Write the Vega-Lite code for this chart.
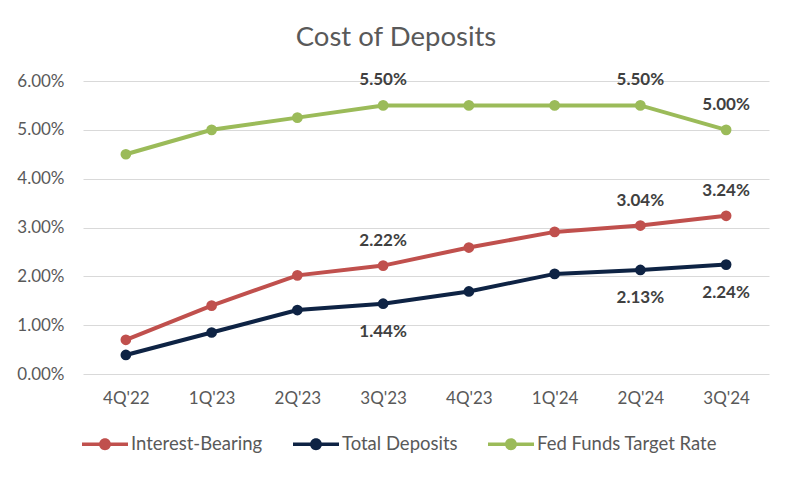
{
  "$schema": "https://vega.github.io/schema/vega-lite/v6.json",
  "width": 686,
  "height": 293,
  "autosize": {"type": "none"},
  "padding": {"left": 83, "top": 81, "right": 22, "bottom": 103},
  "background": "white",
  "title": {
    "text": "Cost of Deposits",
    "font": "Lato",
    "fontSize": 27.5,
    "fontWeight": "normal",
    "color": "#595959",
    "anchor": "middle",
    "frame": "group",
    "dx": -30,
    "offset": 20
  },
  "config": {
    "font": "Lato",
    "view": {"stroke": null},
    "axis": {
      "labelFont": "Lato",
      "labelFontSize": 17,
      "labelColor": "#595959",
      "domain": false,
      "ticks": false,
      "title": null
    }
  },
  "data": {
    "values": [
      {"quarter": "4Q'22", "series": "Interest-Bearing", "value": 0.0070},
      {"quarter": "1Q'23", "series": "Interest-Bearing", "value": 0.0140},
      {"quarter": "2Q'23", "series": "Interest-Bearing", "value": 0.0202},
      {"quarter": "3Q'23", "series": "Interest-Bearing", "value": 0.0222},
      {"quarter": "4Q'23", "series": "Interest-Bearing", "value": 0.0259},
      {"quarter": "1Q'24", "series": "Interest-Bearing", "value": 0.0291},
      {"quarter": "2Q'24", "series": "Interest-Bearing", "value": 0.0304},
      {"quarter": "3Q'24", "series": "Interest-Bearing", "value": 0.0324},
      {"quarter": "4Q'22", "series": "Total Deposits", "value": 0.0039},
      {"quarter": "1Q'23", "series": "Total Deposits", "value": 0.0085},
      {"quarter": "2Q'23", "series": "Total Deposits", "value": 0.0131},
      {"quarter": "3Q'23", "series": "Total Deposits", "value": 0.0144},
      {"quarter": "4Q'23", "series": "Total Deposits", "value": 0.0169},
      {"quarter": "1Q'24", "series": "Total Deposits", "value": 0.0205},
      {"quarter": "2Q'24", "series": "Total Deposits", "value": 0.0213},
      {"quarter": "3Q'24", "series": "Total Deposits", "value": 0.0224},
      {"quarter": "4Q'22", "series": "Fed Funds Target Rate", "value": 0.0450},
      {"quarter": "1Q'23", "series": "Fed Funds Target Rate", "value": 0.0500},
      {"quarter": "2Q'23", "series": "Fed Funds Target Rate", "value": 0.0525},
      {"quarter": "3Q'23", "series": "Fed Funds Target Rate", "value": 0.0550},
      {"quarter": "4Q'23", "series": "Fed Funds Target Rate", "value": 0.0550},
      {"quarter": "1Q'24", "series": "Fed Funds Target Rate", "value": 0.0550},
      {"quarter": "2Q'24", "series": "Fed Funds Target Rate", "value": 0.0550},
      {"quarter": "3Q'24", "series": "Fed Funds Target Rate", "value": 0.0500}
    ]
  },
  "encoding": {
    "x": {
      "field": "quarter",
      "type": "ordinal",
      "sort": null,
      "scale": {"type": "point", "padding": 0.5},
      "axis": {"labelAngle": 0, "labelPadding": 16, "grid": false}
    },
    "y": {
      "field": "value",
      "type": "quantitative",
      "scale": {"domain": [0, 0.06]},
      "axis": {
        "format": ".2%",
        "values": [0, 0.01, 0.02, 0.03, 0.04, 0.05, 0.06],
        "labelPadding": 19,
        "grid": true,
        "gridColor": "#d9d9d9",
        "gridWidth": 1
      }
    },
    "color": {
      "field": "series",
      "type": "nominal",
      "scale": {
        "domain": ["Interest-Bearing", "Total Deposits", "Fed Funds Target Rate"],
        "range": ["#C0504D", "#0E2344", "#9BBB59"]
      },
      "legend": {
        "title": null,
        "orient": "none",
        "direction": "horizontal",
        "legendX": -1,
        "legendY": 340,
        "padding": 0,
        "symbolType": "M-1,-0.076H1V0.076H-1Z M0.26,0A0.26,0.26 0 1,1 -0.26,0A0.26,0.26 0 1,1 0.26,0Z",
        "symbolSize": 2116,
        "symbolStrokeWidth": 0,
        "symbolOpacity": 1,
        "labelFont": "Lato",
        "labelFontSize": 18.5,
        "labelColor": "#595959",
        "labelOffset": 3,
        "columnPadding": 30,
        "labelLimit": 300
      }
    }
  },
  "layer": [
    {
      "mark": {"type": "line", "strokeWidth": 4}
    },
    {
      "mark": {"type": "point", "filled": true, "size": 115, "opacity": 1}
    },
    {
      "transform": [
        {"filter": {"field": "quarter", "oneOf": ["3Q'23", "2Q'24", "3Q'24"]}},
        {"filter": {"field": "series", "oneOf": ["Interest-Bearing", "Fed Funds Target Rate"]}}
      ],
      "mark": {"type": "text", "dy": -25, "fontSize": 17, "fontWeight": "bold", "color": "#404040", "font": "Lato"},
      "encoding": {"text": {"field": "value", "type": "quantitative", "format": ".2%"}, "color": {"value": "#404040"}}
    },
    {
      "transform": [
        {"filter": {"field": "quarter", "oneOf": ["3Q'23", "2Q'24", "3Q'24"]}},
        {"filter": {"field": "series", "equal": "Total Deposits"}}
      ],
      "mark": {"type": "text", "dy": 28, "fontSize": 17, "fontWeight": "bold", "color": "#404040", "font": "Lato"},
      "encoding": {"text": {"field": "value", "type": "quantitative", "format": ".2%"}, "color": {"value": "#404040"}}
    }
  ]
}
